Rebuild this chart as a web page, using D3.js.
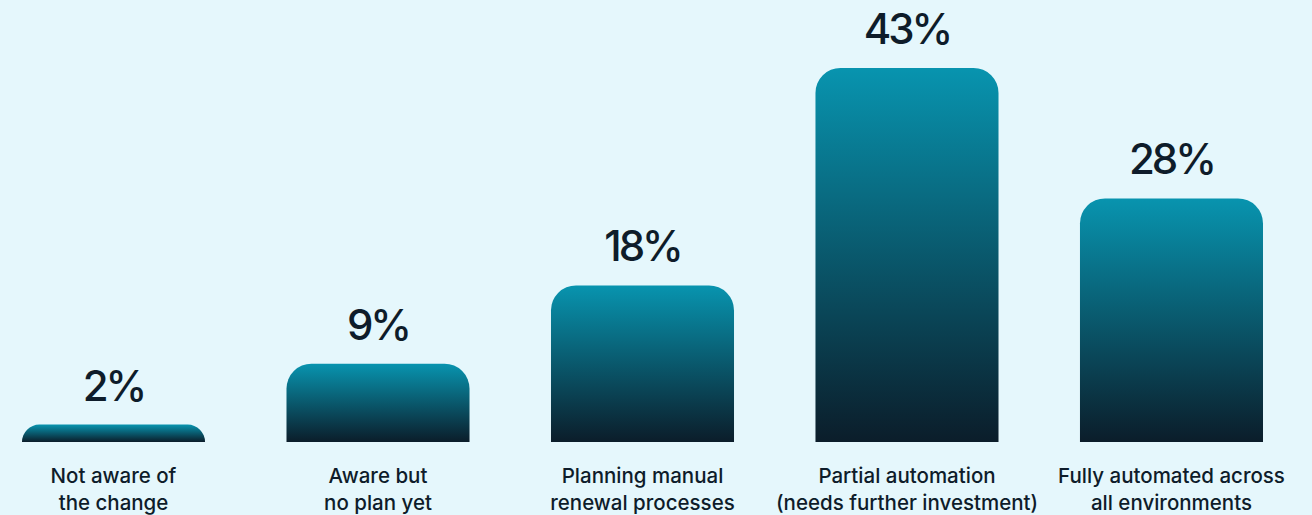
<!DOCTYPE html>
<html>
<head>
<meta charset="utf-8">
<script src="https://cdn.jsdelivr.net/npm/d3@7"></script>
<style>
  html, body { margin: 0; padding: 0; background: #e5f7fc; }
  svg { display: block; }
</style>
</head>
<body>
<svg id="chart" width="1312" height="515"></svg>
<script>
// Survey responses: readiness for the certificate lifetime change
const categories = [
  ["Not aware of", "the change"],
  ["Aware but", "no plan yet"],
  ["Planning manual", "renewal processes"],
  ["Partial automation", "(needs further investment)"],
  ["Fully automated across", "all environments"]
];
const values = [2, 9, 18, 43, 28];

const width = 1312, height = 515;
const svg = d3.select("#chart");

const keys = categories.map((c, i) => i);
const x = d3.scaleBand()
  .domain(keys)
  .range([22, 1263])
  .paddingInner(0.308)
  .paddingOuter(0);

const baseline = 442;
const y = d3.scaleLinear().domain([0, 50]).range([baseline, baseline - 435]);

// vertical teal-to-navy fill, stretched over each bar
const defs = svg.append("defs");
const grad = defs.append("linearGradient")
  .attr("id", "barFill")
  .attr("x1", 0).attr("y1", 0).attr("x2", 0).attr("y2", 1);
grad.append("stop").attr("offset", "0%").attr("stop-color", "#0894af");
grad.append("stop").attr("offset", "100%").attr("stop-color", "#0b1d2a");

// rectangle with rounded top corners only
function topRounded(x0, y0, w, h, r) {
  r = Math.min(r, h, w / 2);
  return `M${x0},${y0 + h}` +
    `V${y0 + r}` +
    `A${r},${r} 0 0 1 ${x0 + r},${y0}` +
    `H${x0 + w - r}` +
    `A${r},${r} 0 0 1 ${x0 + w},${y0 + r}` +
    `V${y0 + h}Z`;
}

svg.append("g").selectAll("path")
  .data(values)
  .join("path")
  .attr("d", (d, i) => topRounded(x(i), y(d), x.bandwidth(), baseline - y(d), 25))
  .attr("fill", "url(#barFill)");

const font = "Inter, 'Noto Sans', sans-serif";
const ink = "#0e1c2a";

svg.append("g").selectAll("text")
  .data(values)
  .join("text")
  .attr("x", (d, i) => x(i) + x.bandwidth() / 2)
  .attr("y", d => y(d) - 24)
  .attr("text-anchor", "middle")
  .attr("font-family", font)
  .attr("font-size", 42)
  .attr("font-weight", 500)
  .attr("letter-spacing", "-3px")
  .attr("fill", ink)
  .text(d => d + "%");

const labels = svg.append("g").selectAll("text")
  .data(categories)
  .join("text")
  .attr("x", (d, i) => x(i) + x.bandwidth() / 2)
  .attr("y", 483)
  .attr("text-anchor", "middle")
  .attr("font-family", font)
  .attr("font-size", 20.5)
  .attr("font-weight", 500)
  .attr("fill", ink);

labels.selectAll("tspan")
  .data((d, i) => d.map(line => ({ line, i })))
  .join("tspan")
  .attr("x", d => x(d.i) + x.bandwidth() / 2)
  .attr("dy", (d, j) => j === 0 ? 0 : 27)
  .text(d => d.line);
</script>
</body>
</html>
